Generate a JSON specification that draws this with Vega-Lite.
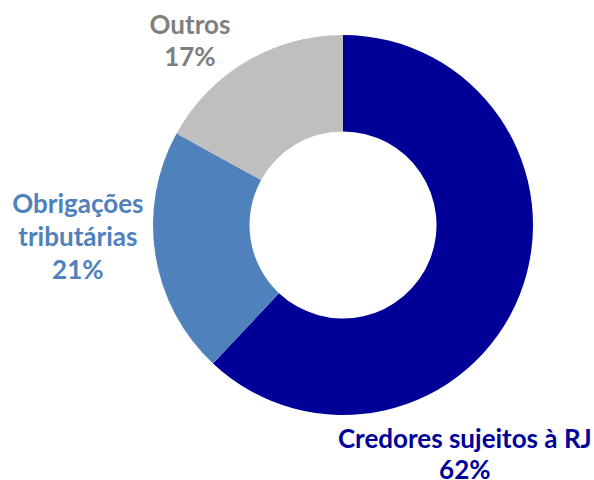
{
  "$schema": "https://vega.github.io/schema/vega-lite/v6.json",
  "autosize": "none",
  "width": 502,
  "height": 450,
  "padding": {"left": 92, "top": 0, "right": 0, "bottom": 30},
  "background": "white",
  "config": {"view": {"stroke": null}},
  "data": {
    "values": [
      {"categoria": "Credores sujeitos à RJ", "valor": 62, "rotulo": "Credores sujeitos à RJ"},
      {"categoria": "Obrigações tributárias", "valor": 21, "rotulo": "Obrigações\ntributárias"},
      {"categoria": "Outros", "valor": 17, "rotulo": "Outros"}
    ]
  },
  "transform": [
    {"calculate": "datum.rotulo + '\\n' + datum.valor + '%'", "as": "texto"}
  ],
  "encoding": {
    "theta": {"field": "valor", "type": "quantitative", "stack": true},
    "order": {"field": "valor", "sort": "descending"}
  },
  "layer": [
    {
      "mark": {"type": "arc", "radius": 190, "radius2": 93.5},
      "encoding": {
        "color": {
          "field": "categoria",
          "type": "nominal",
          "scale": {
            "domain": ["Credores sujeitos à RJ", "Obrigações tributárias", "Outros"],
            "range": ["#000099", "#4F81BD", "#BFBFBF"]
          },
          "legend": null
        }
      }
    },
    {
      "transform": [{"calculate": "datum.categoria === 'Credores sujeitos à RJ' ? datum.texto : ''", "as": "t"}],
      "mark": {"type": "text", "radius": 230, "dx": -92, "dy": 130, "font": "Lato", "fontWeight": "bold", "fontSize": 26, "lineHeight": 31, "lineBreak": "\n", "align": "center", "baseline": "middle", "color": "#000099"},
      "encoding": {"text": {"field": "t"}}
    },
    {
      "transform": [{"calculate": "datum.categoria === 'Obrigações tributárias' ? datum.texto : ''", "as": "t"}],
      "mark": {"type": "text", "radius": 230, "dx": -38, "dy": -56, "font": "Lato", "fontWeight": "bold", "fontSize": 26, "lineHeight": 33, "lineBreak": "\n", "align": "center", "baseline": "middle", "color": "#4F81BD"},
      "encoding": {"text": {"field": "t"}}
    },
    {
      "transform": [{"calculate": "datum.categoria === 'Outros' ? datum.texto : ''", "as": "t"}],
      "mark": {"type": "text", "radius": 230, "dx": -36, "dy": -1, "font": "Lato", "fontWeight": "bold", "fontSize": 26, "lineHeight": 32, "lineBreak": "\n", "align": "center", "baseline": "middle", "color": "#7F7F7F"},
      "encoding": {"text": {"field": "t"}}
    }
  ]
}
